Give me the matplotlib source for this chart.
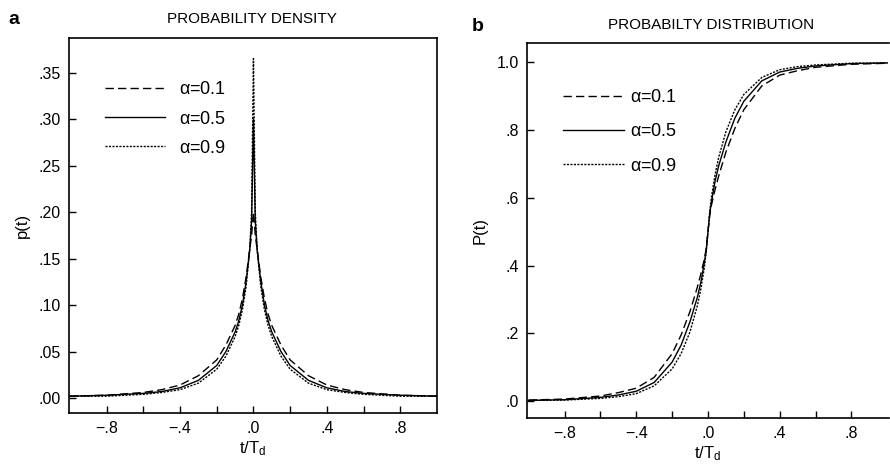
import matplotlib
matplotlib.use("Agg")
import matplotlib.pyplot as plt

plt.rcParams['font.family'] = ['Liberation Sans', 'DejaVu Sans']
plt.rcParams['mathtext.default'] = 'regular'

# ---- data ----
# panel a: probability density p(t)
t_pdf = [-1.0, -0.8, -0.6, -0.5, -0.4, -0.3, -0.2, -0.15, -0.1, -0.08, -0.06, -0.04, -0.02, -0.01, 0.0,
         0.01, 0.02, 0.04, 0.06, 0.08, 0.1, 0.15, 0.2, 0.3, 0.4, 0.5, 0.6, 0.8, 1.0]
pdf_a01 = [0.002, 0.003, 0.006, 0.009, 0.014, 0.024, 0.041, 0.057, 0.078, 0.090, 0.107, 0.130, 0.160, 0.175, 0.200,
           0.175, 0.160, 0.130, 0.107, 0.090, 0.078, 0.057, 0.041, 0.024, 0.014, 0.009, 0.006, 0.003, 0.002]
pdf_a05 = [0.002, 0.003, 0.005, 0.007, 0.011, 0.019, 0.035, 0.050, 0.071, 0.083, 0.100, 0.125, 0.160, 0.190, 0.300,
           0.190, 0.160, 0.125, 0.100, 0.083, 0.071, 0.050, 0.035, 0.019, 0.011, 0.007, 0.005, 0.003, 0.002]
pdf_a09 = [0.002, 0.002, 0.004, 0.006, 0.009, 0.016, 0.031, 0.045, 0.066, 0.078, 0.095, 0.120, 0.160, 0.200, 0.365,
           0.200, 0.160, 0.120, 0.095, 0.078, 0.066, 0.045, 0.031, 0.016, 0.009, 0.006, 0.004, 0.002, 0.002]

# panel b: probability distribution P(t)
t_cdf = [-1.0, -0.8, -0.6, -0.5, -0.4, -0.3, -0.2, -0.15, -0.1, -0.06, -0.04, -0.02, -0.01, 0.0,
         0.01, 0.02, 0.04, 0.06, 0.1, 0.15, 0.2, 0.3, 0.4, 0.5, 0.6, 0.8, 1.0]
cdf_a01 = [0.003, 0.006, 0.015, 0.025, 0.038, 0.070, 0.140, 0.195, 0.265, 0.335, 0.375, 0.420, 0.450, 0.500,
           0.550, 0.580, 0.625, 0.665, 0.735, 0.805, 0.860, 0.930, 0.962, 0.975, 0.985, 0.994, 0.997]
cdf_a05 = [0.002, 0.004, 0.011, 0.018, 0.029, 0.055, 0.115, 0.165, 0.235, 0.305, 0.350, 0.410, 0.445, 0.500,
           0.555, 0.590, 0.650, 0.695, 0.765, 0.835, 0.885, 0.945, 0.971, 0.982, 0.989, 0.996, 0.998]
cdf_a09 = [0.002, 0.003, 0.008, 0.013, 0.022, 0.045, 0.095, 0.140, 0.205, 0.280, 0.330, 0.395, 0.440, 0.500,
           0.560, 0.605, 0.670, 0.720, 0.795, 0.860, 0.905, 0.955, 0.978, 0.987, 0.992, 0.997, 0.998]

labels = [r'$\alpha$=0.1', r'$\alpha$=0.5', r'$\alpha$=0.9']
styles = [(0, (6, 3)), '-', (0, (1.5, 1.0))]

xt_major = [-0.8, -0.4, 0.0, 0.4, 0.8]
xt_major_lab = ['\u2212.8', '\u2212.4', '.0', '.4', '.8']
xt_minor = [-0.6, -0.2, 0.2, 0.6]

fig = plt.figure(figsize=(8.9, 4.65), dpi=100)
ax1 = fig.add_axes([0.0775, 0.112, 0.4135, 0.806])
ax2 = fig.add_axes([0.592, 0.101, 0.407, 0.806])

for ys, lab, ls in zip([pdf_a01, pdf_a05, pdf_a09], labels, styles):
    ax1.plot(t_pdf, ys, color='black', lw=1.0, ls=ls, label=lab)
for ys, lab, ls in zip([cdf_a01, cdf_a05, cdf_a09], labels, styles):
    ax2.plot(t_cdf, ys, color='black', lw=1.0, ls=ls, label=lab)

ax1.set_xlim(-1.005, 1.0)
ax1.set_ylim(-0.016, 0.387)
ax1.set_yticks([0, 0.05, 0.10, 0.15, 0.20, 0.25, 0.30, 0.35],
               ['.00', '.05', '.10', '.15', '.20', '.25', '.30', '.35'])
ax2.set_xlim(-1.01, 1.01)
ax2.set_ylim(-0.05, 1.056)
ax2.set_yticks([0, 0.2, 0.4, 0.6, 0.8, 1.0], ['.0', '.2', '.4', '.6', '.8', '1.0'])

for ax in (ax1, ax2):
    ax.set_xticks(xt_major, xt_major_lab)
    ax.set_xticks(xt_minor, minor=True)
    ax.tick_params(which='both', direction='in', length=5, width=1.0, labelsize=11.5, pad=6)
    for sp in ax.spines.values():
        sp.set_linewidth(1.2)
    ax.set_xlabel('t/T$_d$', fontsize=12, labelpad=2)

ax1.legend(loc='upper left', frameon=False, fontsize=13, handlelength=3.3,
           handletextpad=0.8, labelspacing=0.68, borderpad=0, borderaxespad=0,
           bbox_to_anchor=(0.098, 0.885))
ax2.legend(loc='upper left', frameon=False, fontsize=13, handlelength=3.4,
           handletextpad=0.3, labelspacing=0.95, borderpad=0, borderaxespad=0,
           bbox_to_anchor=(0.099, 0.877))

ax2.spines['right'].set_visible(False)
ax1.set_ylabel('p(t)', fontsize=12, labelpad=6)
ax2.set_ylabel('P(t)', fontsize=12, labelpad=6)

fig.text(0.283, 0.959, 'PROBABILITY DENSITY', ha='center', va='center', fontsize=11)
fig.text(0.799, 0.946, 'PROBABILTY DISTRIBUTION', ha='center', va='center', fontsize=11)
fig.text(0.009, 0.958, 'a', fontsize=14, fontweight='bold', va='center')
fig.text(0.530, 0.942, 'b', fontsize=14, fontweight='bold', va='center')

fig.savefig('out.png', dpi=100)
